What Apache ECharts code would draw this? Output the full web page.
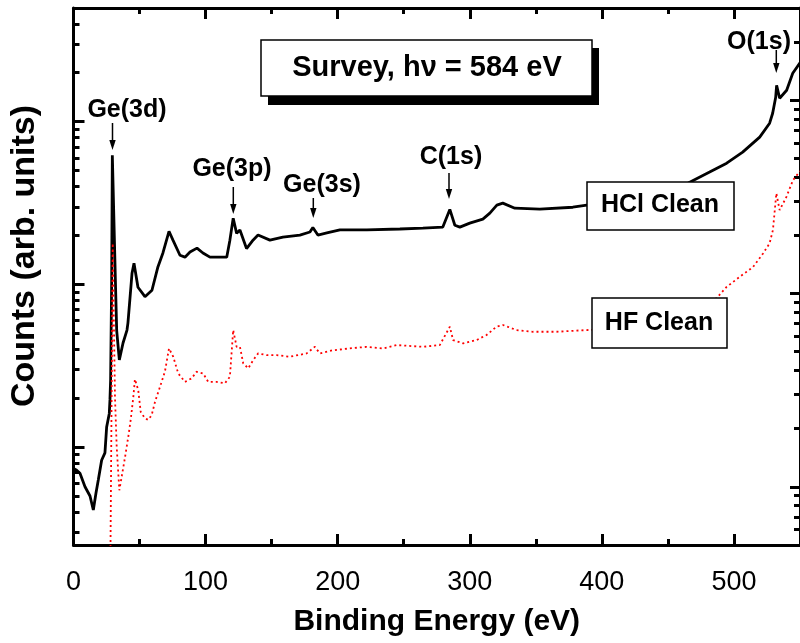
<!DOCTYPE html>
<html>
<head>
<meta charset="utf-8">
<script src="https://cdn.jsdelivr.net/npm/echarts@6/dist/echarts.min.js"></script>
<style>html,body{margin:0;padding:0;background:#fff}#c{width:800px;height:643px}</style>
</head>
<body>
<div id="c"></div>
<script>
// ---- data ----
const energyHCl = [0,2.4,4.9,8.7,12.5,15.0,17.0,18.8,21.3,23.8,25.1,27.1,27.6,28.1,28.9,29.4,31.9,32.7,34.7,37.5,40.5,41.2,44.3,45.8,48.8,54.1,59.4,63.9,67.7,72.3,75.3,80.6,84.4,88.2,93.5,98.0,103.3,116.0,118.4,120.9,123.5,126.0,131.0,135.9,139.7,148.7,158.5,171.4,179.0,181.2,185.0,191.8,201.7,222.1,247.1,264.5,279.6,284.9,288.7,292.5,300.0,309.9,315.2,320.5,325.0,334.1,353.0,378.0,388.6,420,440,455,466.5,481.6,494.5,506.6,519.5,527.0,529.3,531.6,532.3,534.6,539.9,544.5,550];
const countsHCl = [7.4,7.2,6.9,5.7,5.0,4.1,5.2,6.3,8.3,9.2,13.3,16.1,19.5,25.8,106,622,92,52,34.3,43.6,52.4,57.8,117,135,96,84,92,128,156,212,187,151,147,158,167,156,147,147,187,255,206,216,166,187,201,187,195,201,210,224,201,207,216,216,219,222,225,289,231,225,238,252,274,307,316,294,290,298,307,316,334,373,425,490,556,650,804,979,1127,1413,1675,1393,1560,1986,2300];
const energyHF = [27.6,29.7,31.4,32.7,34.7,36.5,38.7,41.5,43.3,45.3,46.5,49.0,50.9,54.1,56.6,59.2,61.7,65.5,69.2,72.3,75.5,79.3,84.4,89.4,93.2,98.2,102.0,108.4,114.6,118.4,120.9,123.5,126.0,128.5,132.3,136.1,139.8,146.2,153.8,163.8,176.5,182.7,186.5,196.6,209.2,221.9,234.4,244.6,264.7,277.3,284.9,287.4,295.0,305.1,312.7,320.2,325.2,335.4,347.9,365.6,388.3,420,450,470,486.7,494.3,504.4,514.4,522.0,527.0,529.5,532.1,534.6,539.7,544.7,550];
const countsHF = [2,182,29.1,16.1,9.6,11.3,13.8,18.2,22.2,29.2,36.0,31.7,24.4,22.6,22.2,23.5,27.5,32.9,39.4,52.0,47.1,38.6,34.9,36.4,39.4,38.6,34.9,34.9,34.3,37.1,64.7,53.0,53.0,43.5,41.0,45.3,49.0,48.0,48.0,47.1,49.0,53.0,49.0,50.9,52.0,53.0,52.0,54.1,53.0,54.1,67.3,57.4,55.2,57.4,61.0,67.3,68.7,64.7,63.4,63.4,64.7,66,71,80,94.4,108,122,137,161,182,213,330,270,316,386,430];

// axis ranges and tick values
const xRange = [0, 550];
const xMajorTicks = [0,100,200,300,400,500];
const xMinorTicks = [50,150,250,350,450];
const xTickLabels = [0,100,200,300,400,500];
const leftRange = [2.5, 5000];
const rightRange = [5, 3000];
const yMajorTicks = [10,100,1000];
const leftMinorTicks = [3,4,5,6,7,8,9,20,30,40,50,60,70,80,90,200,300,400,500,600,700,800,900,2000,3000,4000];
const rightMinorTicks = [6,7,8,9,20,30,40,50,60,70,80,90,200,300,400,500,600,700,800,900,2000];

const seriesNames = ['HCl Clean', 'HF Clean'];
const xTitle = 'Binding Energy (eV)';
const yTitle = 'Counts (arb. units)';
const boxTitle = 'Survey, h\u03bd = 584 eV';
const peakLabels = ['Ge(3d)', 'Ge(3p)', 'Ge(3s)', 'C(1s)', 'O(1s)'];

// ---- chart ----
const FONT = '"Liberation Sans", Arial, Helvetica, sans-serif';
const lineBlack = {color:'#000', width:3};
function xAx(pos, ticks, len, showLine, labels){
  return {type:'value', min:xRange[0], max:xRange[1], position:pos,
    axisLine:{show:showLine, onZero:false, lineStyle:lineBlack},
    axisTick:{show:true, inside:true, length:len, customValues:ticks, lineStyle:{color:'#000', width:3}},
    axisLabel:labels ? {show:true, customValues:labels, margin:24, color:'#000', fontSize:27, fontFamily:FONT} : {show:false},
    splitLine:{show:false}, minorTick:{show:false}};
}
function yAx(pos, range, ticks, len, showLine){
  return {type:'log', logBase:10, min:range[0], max:range[1], position:pos,
    axisLine:{show:showLine, onZero:false, lineStyle:lineBlack},
    axisTick:{show:true, inside:true, length:len, customValues:ticks, lineStyle:{color:'#000', width:3}},
    axisLabel:{show:false}, splitLine:{show:false}, minorTick:{show:false}};
}
const xAxes = [
  xAx('bottom', xMajorTicks, 11, true, xTickLabels),
  xAx('bottom', xMinorTicks, 6, false, null),
  xAx('top', xMajorTicks, 11, true, null),
  xAx('top', xMinorTicks, 6, false, null)
];
xAxes[0].name = xTitle;
xAxes[0].nameLocation = 'middle';
xAxes[0].nameGap = 62;
xAxes[0].nameTextStyle = {fontSize:30, fontWeight:'bold', color:'#000', fontFamily:FONT};

const yAxes = [
  yAx('left', leftRange, yMajorTicks, 11, true),
  yAx('left', leftRange, leftMinorTicks, 6, false),
  yAx('right', rightRange, yMajorTicks, 10, true),
  yAx('right', rightRange, rightMinorTicks, 6, false)
];

function arrow(x, y1, y2){
  return [
    {type:'line', z:100, shape:{x1:x, y1:y1, x2:x, y2:y2-6}, style:{stroke:'#000', lineWidth:1.5}},
    {type:'polygon', z:100, shape:{points:[[x-3.2,y2-10],[x+3.2,y2-10],[x,y2]]}, style:{fill:'#000'}}
  ];
}
function label(t, x, y, size){
  return {type:'text', z:100, x:x, y:y, style:{text:t, align:'center', verticalAlign:'middle', font:'bold '+size+'px '+FONT, fill:'#000'}};
}
const graphics = [
  {type:'rect', z:99, shape:{x:268, y:48, width:331, height:57}, style:{fill:'#000'}},
  {type:'rect', z:100, shape:{x:261, y:40, width:331, height:56}, style:{fill:'#fff', stroke:'#000', lineWidth:1.5}},
  label(boxTitle, 427, 68, 29),
  {type:'rect', z:100, shape:{x:587, y:182, width:147, height:48}, style:{fill:'#fff', stroke:'#000', lineWidth:1.5}},
  label(seriesNames[0], 660, 205, 25),
  {type:'rect', z:100, shape:{x:592, y:298, width:135, height:50}, style:{fill:'#fff', stroke:'#000', lineWidth:1.5}},
  label(seriesNames[1], 659, 323, 25),
  label(peakLabels[0], 127, 110, 25),
  label(peakLabels[1], 232, 169, 25),
  label(peakLabels[2], 322, 185, 25),
  label(peakLabels[3], 451, 157, 25),
  label(peakLabels[4], 759, 42, 25),
  {type:'text', z:100, x:25, y:256, rotation:Math.PI/2, style:{text:yTitle, align:'center', verticalAlign:'middle', font:'bold 34px '+FONT, fill:'#000'}}
].concat(arrow(112.5, 123, 150), arrow(233.3, 187, 214), arrow(313.3, 198, 218), arrow(449, 173, 199), arrow(776.3, 50, 73));

const chart = echarts.init(document.getElementById('c'), null, {renderer:'canvas'});
chart.setOption({
  animation:false,
  backgroundColor:'#fff',
  grid:{left:73.5, right:0, top:8, bottom:98, containLabel:false, outerBoundsMode:'none'},
  xAxis:xAxes,
  yAxis:yAxes,
  graphic:graphics,
  series:[
    {name:seriesNames[0], type:'line', xAxisIndex:0, yAxisIndex:0, showSymbol:false, symbol:'none', clip:true,
     lineStyle:{color:'#000', width:2.8}, data:energyHCl.map((e,i)=>[e, countsHCl[i]])},
    {name:seriesNames[1], type:'line', xAxisIndex:0, yAxisIndex:2, showSymbol:false, symbol:'none', clip:true,
     lineStyle:{color:'#ff0000', width:1.8, type:[2,3]}, data:energyHF.map((e,i)=>[e, countsHF[i]])}
  ]
});
</script>
</body>
</html>
